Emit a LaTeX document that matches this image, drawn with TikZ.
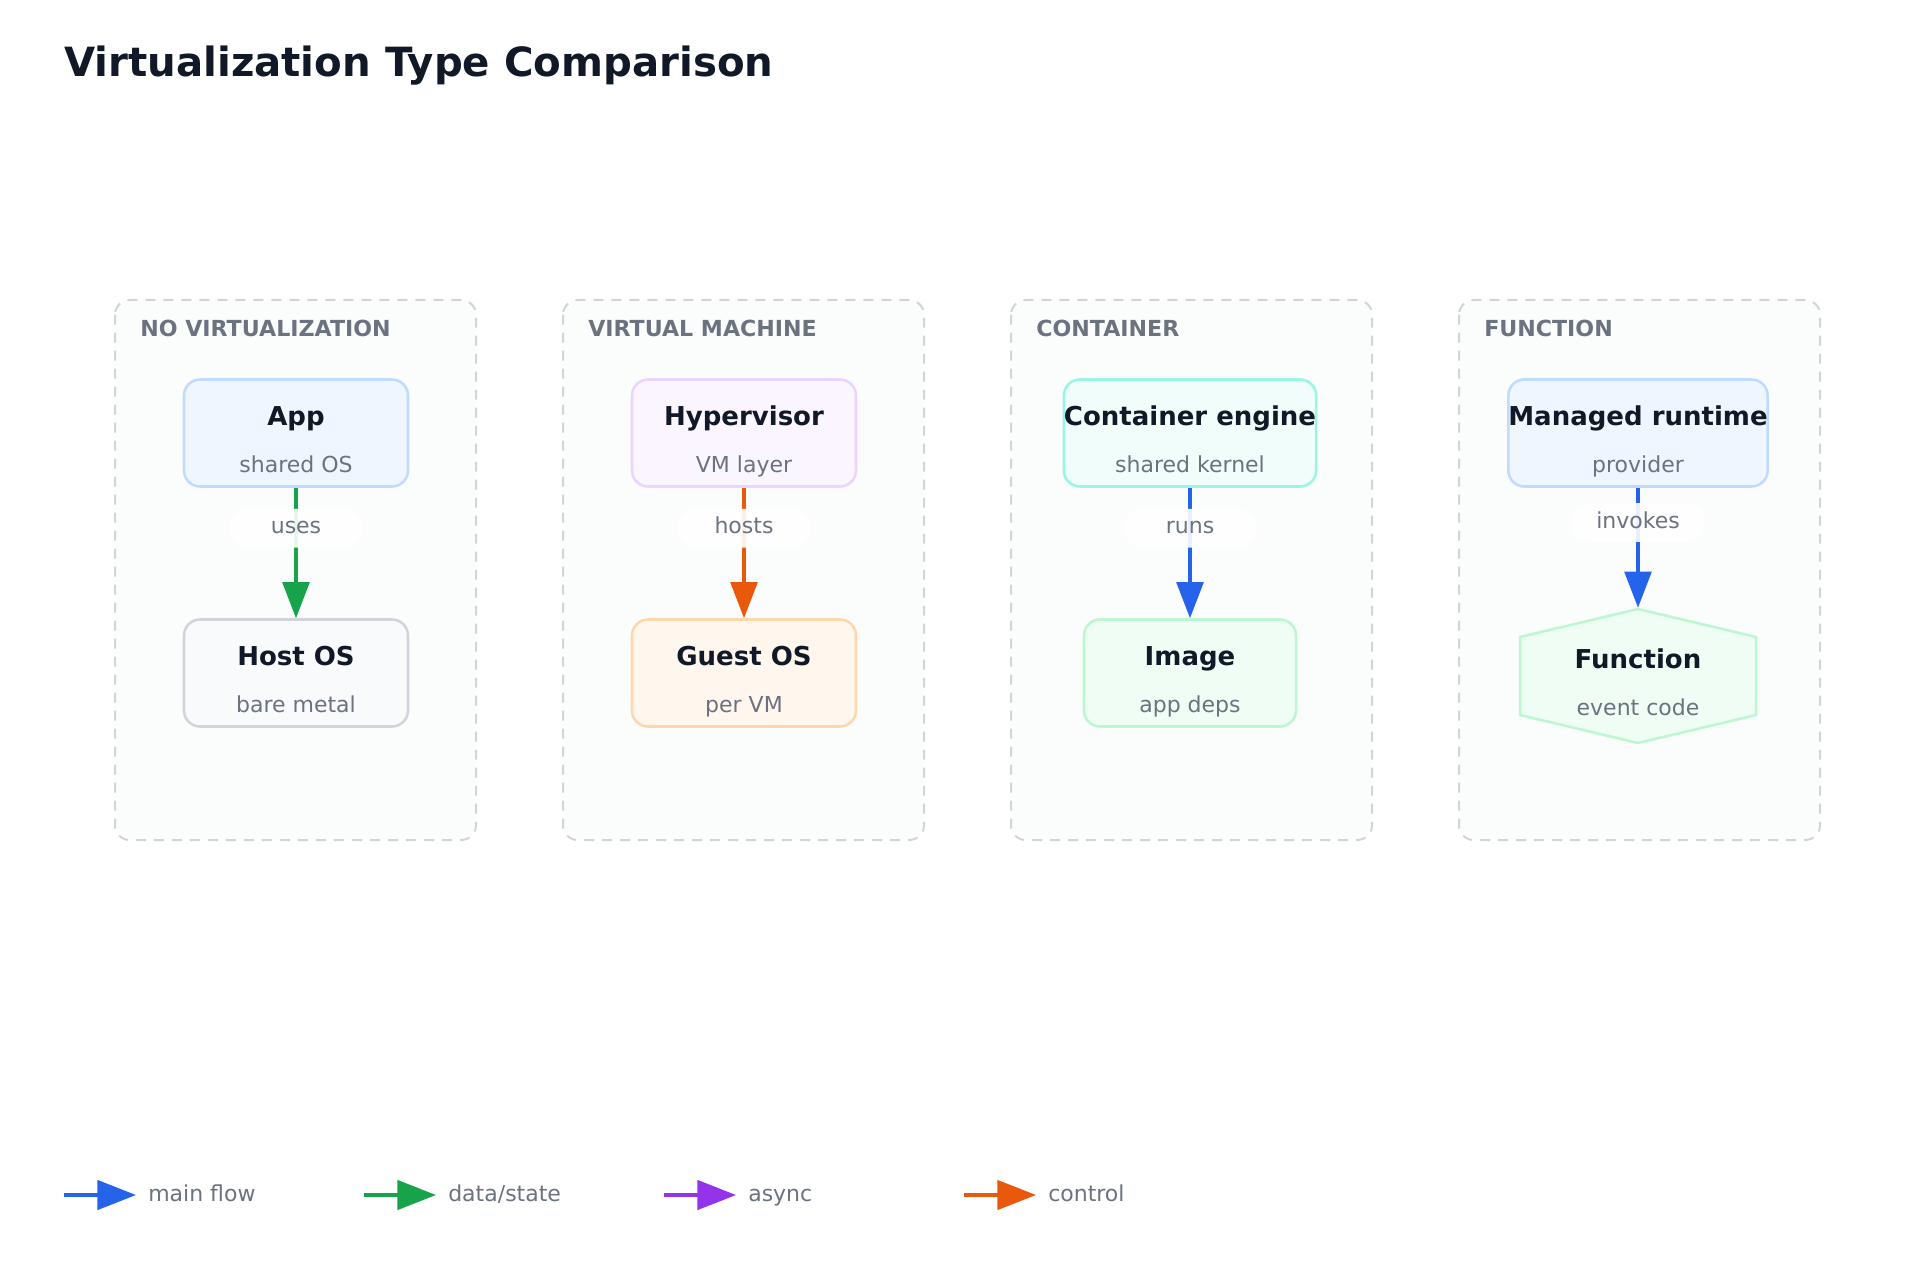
\documentclass[tikz,border=0pt]{standalone}
\usepackage{fontspec}
\setmainfont{DejaVu Sans}
\definecolor{flowblue}{HTML}{2563EB}
\definecolor{flowgreen}{HTML}{16A34A}
\definecolor{flowpurple}{HTML}{9333EA}
\definecolor{floworange}{HTML}{EA580C}
\definecolor{inkdark}{HTML}{111827}
\definecolor{inkgray}{HTML}{6B7280}
\definecolor{groupfill}{HTML}{FBFCFC}
\definecolor{groupline}{HTML}{D1D5DB}
\definecolor{appfill}{HTML}{EFF6FF}
\definecolor{appline}{HTML}{BFDBFE}
\definecolor{hostfill}{HTML}{F8FAFC}
\definecolor{hostline}{HTML}{D1D5DB}
\definecolor{hypfill}{HTML}{FAF5FF}
\definecolor{hypline}{HTML}{E9D5FF}
\definecolor{guestfill}{HTML}{FFF7ED}
\definecolor{guestline}{HTML}{FED7AA}
\definecolor{engfill}{HTML}{F0FDFA}
\definecolor{engline}{HTML}{99F6E4}
\definecolor{imgfill}{HTML}{F0FDF4}
\definecolor{imgline}{HTML}{BBF7D0}
\usetikzlibrary{arrows.meta,positioning,calc}

% title line and subtitle line of a box, with fixed struts
\newcommand{\ttl}[1]{{\fontsize{19.5}{35}\selectfont\bfseries\color{inkdark}\rule{0pt}{28pt}#1}}
\newcommand{\sub}[1]{\rule[-4.2pt]{0pt}{4.2pt}#1}

\begin{document}
\begin{tikzpicture}[x=0.75pt, y=-0.75pt,
    group/.style={draw=groupline, fill=groupfill, line width=1.5pt,
                  dash pattern=on 7.5pt off 6pt, rounded corners=11pt},
    grouptitle/.style={anchor=base west, inner sep=0pt, text=inkgray,
                  font=\fontsize{16.6}{18}\selectfont\bfseries},
    box/.style={rectangle, rounded corners=12pt, line width=1.9pt,
                minimum width=168pt, minimum height=80.25pt, align=center,
                inner sep=0pt, text=inkgray, font=\fontsize{16.5}{35}\selectfont},
    flow/.style={line width=2.6pt, -{Triangle[length=27pt, width=20pt]}},
    legflow/.style={line width=2.6pt, -{Triangle[length=29pt, width=22pt]}},
    edgelabel/.style={fill=white, fill opacity=0.9, text opacity=1, text=inkgray,
                rounded corners=14pt, minimum width=100pt, minimum height=29pt,
                text height=12pt, text depth=3.5pt,
                inner sep=0pt, font=\fontsize{16.5}{18}\selectfont},
    legtext/.style={anchor=base west, inner sep=0pt, text=inkgray,
                font=\fontsize{16.5}{18}\selectfont}]

\useasboundingbox (0,0) rectangle (1920,1280);
\fill[white] (0,0) rectangle (1920,1280);

\node[anchor=base west, inner sep=0pt, text=inkdark,
      font=\fontsize{30.2}{36}\selectfont\bfseries] (title) at (64,77)
      {Virtualization Type Comparison};

% Groups
\draw[group] (115,300) rectangle (476,840);
\draw[group] (563,300) rectangle (924,840);
\draw[group] (1011,300) rectangle (1372,840);
\draw[group] (1459,300) rectangle (1820,840);

\node[grouptitle] (gnone) at (140,336) {NO VIRTUALIZATION};
\node[grouptitle] (gvm) at (588,336) {VIRTUAL MACHINE};
\node[grouptitle] (gcont) at (1036,336) {CONTAINER};
\node[grouptitle] (gfunc) at (1484,336) {FUNCTION};

% Nodes
\node[box, draw=appline, fill=appfill] (app) at (296,433) {\ttl{App}\\\sub{shared OS}};
\node[box, draw=hostline, fill=hostfill] (host) at (296,673) {\ttl{Host OS}\\\sub{bare metal}};

\node[box, draw=hypline, fill=hypfill] (hyp) at (744,433) {\ttl{Hypervisor}\\\sub{VM layer}};
\node[box, draw=guestline, fill=guestfill] (guest) at (744,673) {\ttl{Guest OS}\\\sub{per VM}};

\node[box, draw=engline, fill=engfill, minimum width=189pt] (engine) at (1190,433)
     {\ttl{Container engine}\\\sub{shared kernel}};
\node[box, draw=imgline, fill=imgfill, minimum width=159pt] (image) at (1190,673)
     {\ttl{Image}\\\sub{app deps}};

\node[box, draw=appline, fill=appfill, minimum width=190.5pt] (runtime) at (1638,433)
     {\ttl{Managed runtime}\\\sub{provider}};
\coordinate (fnc) at (1638,676);
\draw[draw=imgline, fill=imgfill, line width=1.9pt]
     ($(fnc)+(0,-67)$) -- ($(fnc)+(118,-39)$) -- ($(fnc)+(118,39)$) --
     ($(fnc)+(0,67)$) -- ($(fnc)+(-118,39)$) -- ($(fnc)+(-118,-39)$) -- cycle;
\node[box, minimum width=177pt, minimum height=100.5pt] (func) at (fnc)
     {\ttl{Function}\\\sub{event code}};

% Connectors
\draw[flow, flowgreen] (app) -- node[edgelabel, pos=0.31] (uses) {uses} (host);
\draw[flow, floworange] (hyp) -- node[edgelabel, pos=0.31] (hosts) {hosts} (guest);
\draw[flow, flowblue] (engine) -- node[edgelabel, pos=0.31] (runs) {runs} (image);
\draw[flow, flowblue] (runtime) -- node[edgelabel, pos=0.29] (invokes) {invokes} (func);

% Legend
\foreach \x/\c/\t/\n in {64/flowblue/main flow/lgmain, 364/flowgreen/data\slash state/lgdata,
                         664/flowpurple/async/lgasync, 964/floworange/control/lgctrl} {
  \coordinate (\n a) at (\x,1195);
  \coordinate (\n b) at (\x+72,1195);
  \node[legtext] (\n) at (\x+84,1201) {\t};
  \draw[legflow, \c] (\n a) -- (\n b);
}
\end{tikzpicture}
\end{document}
